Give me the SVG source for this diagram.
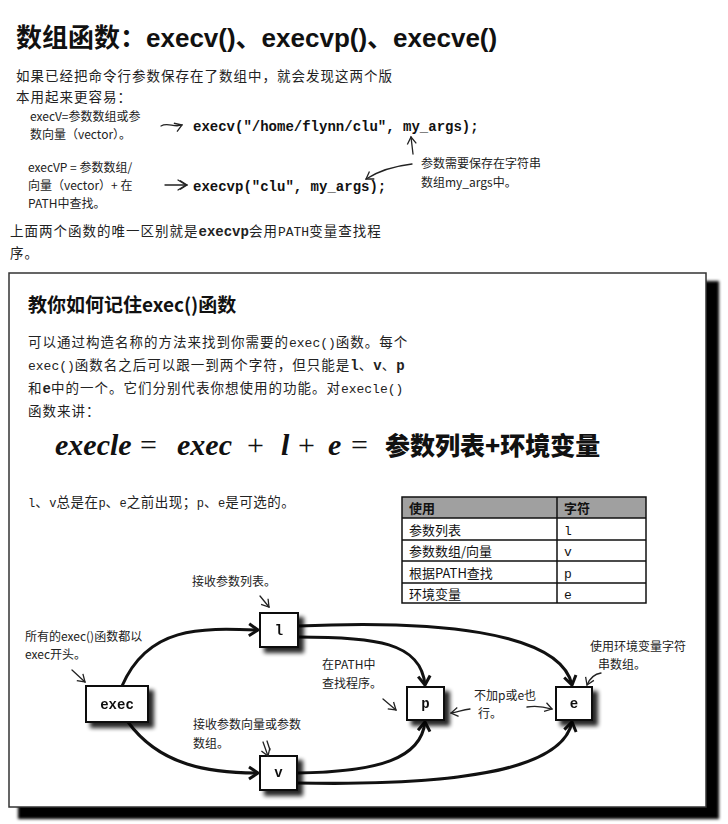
<svg xmlns="http://www.w3.org/2000/svg" width="728" height="824" viewBox="0 0 728 824">
<style>
.title{font-family:"Liberation Sans","Noto Sans CJK SC",sans-serif;font-weight:bold;font-size:26px;fill:#111}
.body{font-family:"Noto Sans CJK SC",sans-serif;font-size:13.5px;fill:#222;letter-spacing:1px}
.mono{font-family:"Liberation Mono",monospace;letter-spacing:0}
.code{font-family:"Liberation Mono",monospace;font-weight:bold;font-size:14px;fill:#111}
.hand{font-family:"Noto Sans CJK SC",sans-serif;font-size:12px;fill:#222}
.h2{font-family:"Noto Sans CJK SC",sans-serif;font-weight:bold;font-size:19px;fill:#111}
.formula{font-family:"Liberation Serif",serif;font-style:italic;font-weight:bold;font-size:30px;fill:#111}
.fcjk{font-family:"Noto Sans CJK SC",sans-serif;font-style:normal;font-weight:900;font-size:25px}
.tbl{font-family:"Noto Sans CJK SC",sans-serif;font-size:13px;fill:#111}
.tmono{font-family:"Liberation Mono",monospace;font-size:13px;fill:#111}
.node rect{fill:#fff;stroke:#111;stroke-width:2}
.nlabel{font-family:"Liberation Mono",monospace;font-weight:bold;font-size:14px;fill:#111;text-anchor:middle}
.conn path{fill:none;stroke:#111;stroke-width:3}
.note{fill:none;stroke:#222;stroke-width:1.3;stroke-linecap:round;stroke-linejoin:round}
</style>
<defs>
<marker id="ah" markerUnits="userSpaceOnUse" markerWidth="16" markerHeight="16" refX="12" refY="8" orient="auto">
<path d="M3,2 L12,8 L3,14" fill="none" stroke="#111" stroke-width="3" stroke-linejoin="miter"/>
</marker>
<marker id="sa" markerUnits="userSpaceOnUse" markerWidth="12" markerHeight="12" refX="9" refY="6" orient="auto">
<path d="M2,1.5 L9,6 L2,10.5" fill="none" stroke="#222" stroke-width="1.3"/>
</marker>
<filter id="sh" x="-30%" y="-30%" width="160%" height="160%">
<feGaussianBlur in="SourceAlpha" stdDeviation="2"/>
<feOffset dx="5" dy="5"/>
<feComponentTransfer><feFuncA type="linear" slope="0.85"/></feComponentTransfer>
<feMerge><feMergeNode/><feMergeNode in="SourceGraphic"/></feMerge>
</filter>
<filter id="bsh" x="-5%" y="-5%" width="110%" height="110%">
<feGaussianBlur stdDeviation="1.8"/>
</filter>
</defs>
<rect width="728" height="824" fill="#fff"/>

<!-- top section -->
<text class="title" x="16" y="47">数组函数：execv()、execvp()、execve()</text>
<text class="body" x="16" y="81">如果已经把命令行参数保存在了数组中，就会发现这两个版</text>
<text class="body" x="16" y="102">本用起来更容易：</text>

<text class="hand" x="30" y="121">execV=参数数组或参</text>
<text class="hand" x="30" y="139">数向量（vector）。</text>
<path class="note" d="M161,126 C168,122 174,128 182,125" marker-end="url(#sa)"/>
<text class="code" x="193" y="131">execv("/home/flynn/clu", my_args);</text>

<text class="hand" x="28" y="172">execVP = 参数数组/</text>
<text class="hand" x="28" y="190">向量（vector）+ 在</text>
<text class="hand" x="28" y="208">PATH中查找。</text>
<path class="note" d="M165,185 L187,185" marker-end="url(#sa)"/>
<path class="note" d="M178,180 L186,185 L178,190"/>
<text class="code" x="193" y="191">execvp("clu", my_args);</text>

<path class="note" d="M413,154 L411,137" marker-end="url(#sa)"/>
<path class="note" d="M412,164 C395,166 380,170 366,179" marker-end="url(#sa)"/>
<text class="hand" x="421" y="168">参数需要保存在字符串</text>
<text class="hand" x="421" y="187">数组my_args中。</text>

<text class="body" x="10" y="236">上面两个函数的唯一区别就是<tspan class="mono" font-weight="bold" font-size="14">execvp</tspan>会用<tspan class="mono" font-size="13">PATH</tspan>变量查找程</text>
<text class="body" x="10" y="258">序。</text>

<!-- panel -->
<rect x="18" y="281" width="701" height="538" fill="#000" filter="url(#bsh)"/>
<rect x="9" y="273" width="697" height="534" fill="#fff" stroke="#333" stroke-width="1.5"/>

<text class="h2" x="28" y="312">教你如何记住exec()函数</text>
<text class="body" x="28" y="347">可以通过构造名称的方法来找到你需要的<tspan class="mono" font-size="13">exec()</tspan>函数。每个</text>
<text class="body" x="28" y="370"><tspan class="mono" font-size="13">exec()</tspan>函数名之后可以跟一到两个字符，但只能是<tspan class="mono" font-weight="bold" font-size="14">l</tspan>、<tspan class="mono" font-weight="bold" font-size="14">v</tspan>、<tspan class="mono" font-weight="bold" font-size="14">p</tspan></text>
<text class="body" x="28" y="393">和<tspan class="mono" font-weight="bold" font-size="14">e</tspan>中的一个。它们分别代表你想使用的功能。对<tspan class="mono" font-size="13">execle()</tspan></text>
<text class="body" x="28" y="416">函数来讲：</text>

<text class="formula" y="455"><tspan x="55">execle</tspan><tspan x="140" font-style="normal" font-weight="normal">=</tspan><tspan x="177">exec</tspan><tspan x="247" font-style="normal" font-weight="normal">+</tspan><tspan x="281">l</tspan><tspan x="298" font-style="normal" font-weight="normal">+</tspan><tspan x="328">e</tspan><tspan x="351" font-style="normal" font-weight="normal">=</tspan><tspan x="385" class="fcjk">参数列表+环境变量</tspan></text>

<text class="body" x="28" y="507" font-size="12.5" style="letter-spacing:0.5px"><tspan class="mono" font-size="12">l</tspan>、<tspan class="mono" font-size="12">v</tspan>总是在<tspan class="mono" font-size="12">p</tspan>、<tspan class="mono" font-size="12">e</tspan>之前出现；<tspan class="mono" font-size="12">p</tspan>、<tspan class="mono" font-size="12">e</tspan>是可选的。</text>

<!-- table -->
<g id="table">
<rect x="402" y="497" width="244" height="21" fill="#a0a0a0"/>
<rect x="402" y="497" width="244" height="106" fill="none" stroke="#111" stroke-width="1.5"/>
<path d="M402,518 H646 M402,540 H646 M402,561 H646 M402,583 H646 M557,497 V603" stroke="#111" stroke-width="1.5" fill="none"/>
<text class="tbl" x="409" y="513" font-weight="bold">使用</text>
<text class="tbl" x="564" y="513" font-weight="bold">字符</text>
<text class="tbl" x="409" y="535">参数列表</text>
<text class="tmono" x="564" y="535">l</text>
<text class="tbl" x="409" y="556">参数数组/向量</text>
<text class="tmono" x="564" y="556">v</text>
<text class="tbl" x="409" y="578">根据PATH查找</text>
<text class="tmono" x="564" y="578">p</text>
<text class="tbl" x="409" y="599">环境变量</text>
<text class="tmono" x="564" y="599">e</text>
</g>

<!-- connectors -->
<g id="connectors" class="conn">
<path d="M122,686 C148,626 200,628 258,630" marker-end="url(#ah)"/>
<path d="M128,722 C160,766 210,773 258,773" marker-end="url(#ah)"/>
<path d="M298,637 C375,637 421,642 425,685" marker-end="url(#ah)"/>
<path d="M298,626 C430,620 560,630 572,685" marker-end="url(#ah)"/>
<path d="M297,773 C380,772 421,758 425,722" marker-end="url(#ah)"/>
<path d="M297,783 C450,786 562,772 572,722" marker-end="url(#ah)"/>
</g>

<!-- nodes -->
<g id="node-exec" class="node" filter="url(#sh)"><rect x="86" y="686" width="62" height="36"/><text class="nlabel" x="117" y="709" font-family="Liberation Sans">exec</text></g>
<g id="node-l" class="node" filter="url(#sh)"><rect x="260" y="613" width="38" height="34"/><text class="nlabel" x="279" y="635">l</text></g>
<g id="node-v" class="node" filter="url(#sh)"><rect x="260" y="756" width="37" height="34"/><text class="nlabel" x="278.5" y="777">v</text></g>
<g id="node-p" class="node" filter="url(#sh)"><rect x="407" y="687" width="37" height="33"/><text class="nlabel" x="425.5" y="708">p</text></g>
<g id="node-e" class="node" filter="url(#sh)"><rect x="556" y="687" width="36" height="33"/><text class="nlabel" x="574" y="708">e</text></g>

<!-- annotations -->
<g id="notes">
<text class="hand" x="192" y="586">接收参数列表。</text>
<path class="note" d="M260,596 L269,607" marker-end="url(#sa)"/>
<text class="hand" x="25" y="641">所有的exec()函数都以</text>
<text class="hand" x="25" y="659">exec开头。</text>
<path class="note" d="M72,670 L85,682" marker-end="url(#sa)"/>
<text class="hand" x="193" y="729">接收参数向量或参数</text>
<text class="hand" x="193" y="748">数组。</text>
<path class="note" d="M263,742 L268,756" marker-end="url(#sa)"/>
<path class="note" d="M267,741 L270,750"/>
<text class="hand" x="322" y="669">在PATH中</text>
<text class="hand" x="322" y="688">查找程序。</text>
<path class="note" d="M383,699 L396,710" marker-end="url(#sa)"/>
<text class="hand" x="474" y="700">不加p或e也</text>
<text class="hand" x="478" y="718">行。</text>
<path class="note" d="M470,709 C462,710 458,712 451,713" marker-end="url(#sa)"/>
<path class="note" d="M527,707 C537,705 545,707 552,709" marker-end="url(#sa)"/>
<text class="hand" x="590" y="651">使用环境变量字符</text>
<text class="hand" x="598" y="669">串数组。</text>
<path class="note" d="M601,673 C594,674 590,678 587,685" marker-end="url(#sa)"/>
</g>
</svg>
